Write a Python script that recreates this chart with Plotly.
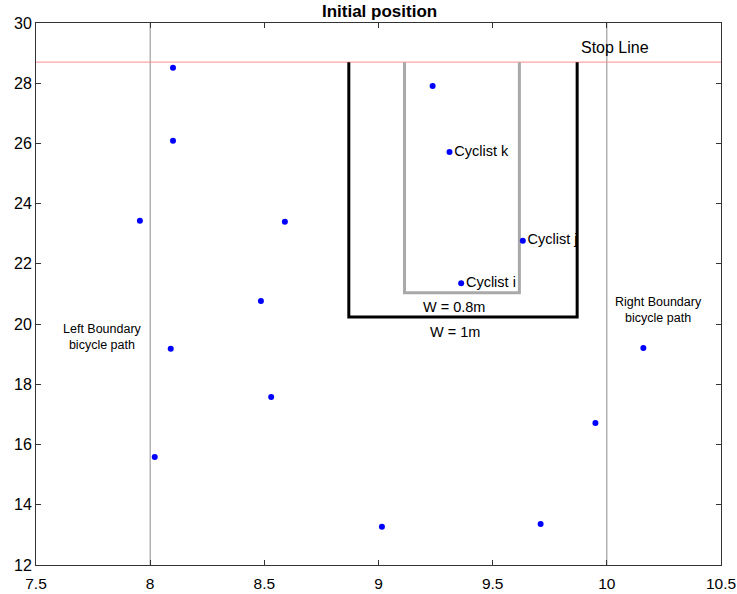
import plotly.graph_objects as go

# Cyclist positions (lateral x [m], longitudinal y [m])
cyclist_x = [8.10, 8.10, 7.955, 8.59, 8.485, 8.09, 8.53, 8.02, 9.015, 9.71, 9.95, 10.16, 9.237]
cyclist_y = [28.51, 26.09, 23.43, 23.40, 20.77, 19.18, 17.58, 15.59, 13.27, 13.36, 16.72, 19.21, 27.91]

# Named cyclists
named_x = [9.311, 9.632, 9.362]
named_y = [25.72, 22.77, 21.36]
named_labels = ["Cyclist k", "Cyclist j", "Cyclist i"]

# Geometry of the scene
stop_line_y = 28.7
left_boundary_x = 8.0
right_boundary_x = 10.0
outer_lane_x = [8.87, 9.87]
outer_lane_bottom = 20.24
inner_lane_x = [9.114, 9.617]
inner_lane_bottom = 21.04

x_range = [7.5, 10.5]
y_range = [12, 30]
x_ticks = [7.5, 8, 8.5, 9, 9.5, 10, 10.5]
x_tick_text = ["7.5", "8", "8.5", "9", "9.5", "10", "10.5"]
y_ticks = [12, 14, 16, 18, 20, 22, 24, 26, 28, 30]

FONT = "Liberation Sans, Arial, sans-serif"

fig = go.Figure()

# Path boundaries
for bx in (left_boundary_x, right_boundary_x):
    fig.add_trace(go.Scatter(x=[bx, bx], y=y_range, mode="lines",
                             line=dict(color="#8c8c8c", width=1), hoverinfo="skip"))

# Stop line
fig.add_trace(go.Scatter(x=x_range, y=[stop_line_y, stop_line_y], mode="lines",
                         line=dict(color="#ff8c8c", width=1), hoverinfo="skip"))

# Lane outlines (open at the stop line)
fig.add_trace(go.Scatter(
    x=[outer_lane_x[0], outer_lane_x[0], outer_lane_x[1], outer_lane_x[1]],
    y=[stop_line_y, outer_lane_bottom, outer_lane_bottom, stop_line_y],
    mode="lines", line=dict(color="black", width=3), hoverinfo="skip"))
fig.add_trace(go.Scatter(
    x=[inner_lane_x[0], inner_lane_x[0], inner_lane_x[1], inner_lane_x[1]],
    y=[stop_line_y, inner_lane_bottom, inner_lane_bottom, stop_line_y],
    mode="lines", line=dict(color="#a9a9a9", width=3), hoverinfo="skip"))

# Cyclists
fig.add_trace(go.Scatter(x=cyclist_x, y=cyclist_y, mode="markers",
                         marker=dict(color="blue", size=6)))
fig.add_trace(go.Scatter(x=named_x, y=named_y, mode="markers+text",
                         text=named_labels, textposition="middle right",
                         textfont=dict(family=FONT, size=14.5, color="black"),
                         marker=dict(color="blue", size=6)))

annots = [
    dict(x=10.036, y=29.18, text="Stop Line", size=16),
    dict(x=9.33, y=20.58, text="W = 0.8m", size=14.5),
    dict(x=9.334, y=19.74, text="W = 1m", size=14.5),
    dict(x=7.79, y=19.57, text="Left Boundary<br>bicycle path", size=12.5),
    dict(x=10.225, y=20.47, text="Right Boundary<br>bicycle path", size=12.5),
]
for a in annots:
    fig.add_annotation(x=a["x"], y=a["y"], text=a["text"], showarrow=False,
                       font=dict(family=FONT, size=a["size"], color="black"),
                       xanchor="center", yanchor="middle")

axis_common = dict(showgrid=False, zeroline=False, showline=True, linecolor="#333",
                   linewidth=1, mirror="ticks", ticks="inside", ticklen=5,
                   tickcolor="#333", automargin=False, ticklabeloverflow="allow")

fig.update_layout(
    width=737, height=594,
    margin=dict(l=36, r=16, t=23, b=29),
    paper_bgcolor="white", plot_bgcolor="white",
    showlegend=False,
    title=dict(text="<b>Initial position</b>", x=0.515, xanchor="center",
               y=0.981, yanchor="middle",
               font=dict(family=FONT, size=17, color="black")),
    xaxis=dict(range=x_range, tickvals=x_ticks, ticktext=x_tick_text,
               ticklabelstandoff=4,
               tickfont=dict(family=FONT, size=15.5, color="black"), **axis_common),
    yaxis=dict(range=y_range, tickvals=y_ticks,
               tickfont=dict(family=FONT, size=16, color="black"), **axis_common),
)

fig.write_html("out.html")
